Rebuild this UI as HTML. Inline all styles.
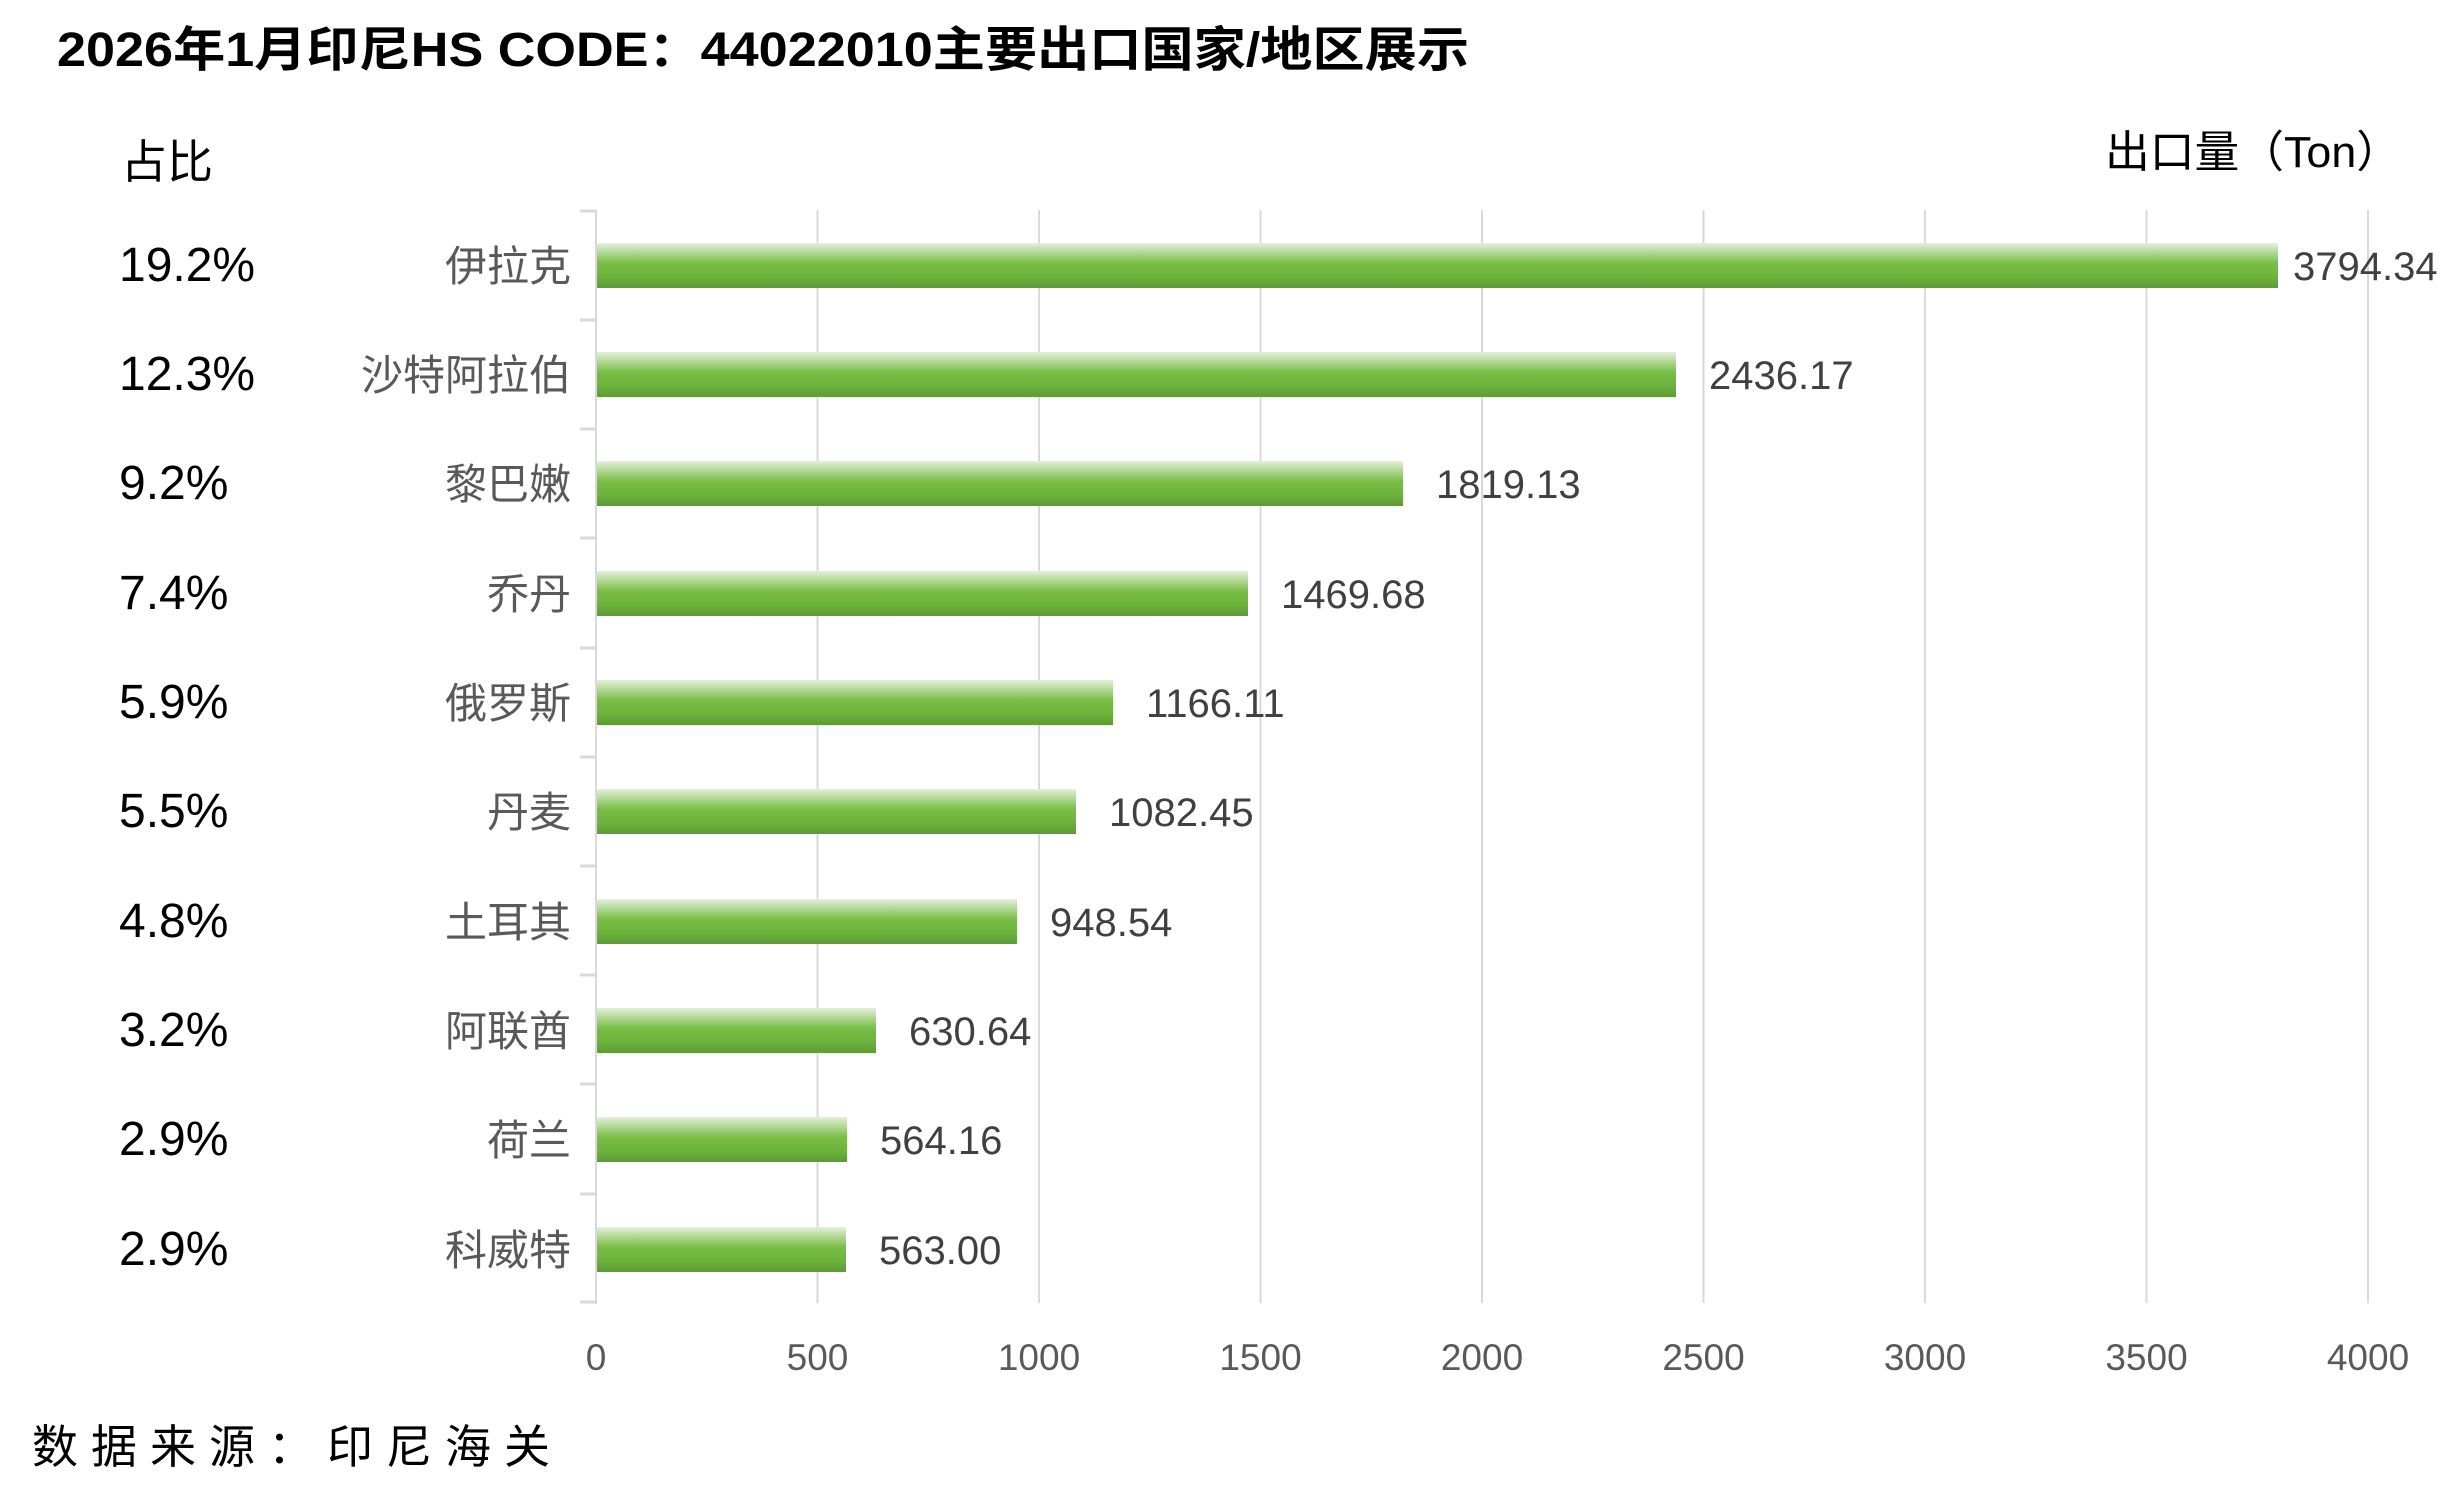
<!DOCTYPE html>
<html><head><meta charset="utf-8"><style>
html,body{margin:0;padding:0;background:#fff;}
svg{display:block;}
text{font-family:"Liberation Sans","Noto Sans CJK SC",sans-serif;}
</style></head><body>
<svg width="2463" height="1495" viewBox="0 0 2463 1495" xmlns="http://www.w3.org/2000/svg">
<defs>
<linearGradient id="g" x1="0" y1="0" x2="0" y2="1">
<stop offset="0" stop-color="#e3f0da"/>
<stop offset="0.45" stop-color="#79bd45"/>
<stop offset="0.75" stop-color="#6cb33c"/>
<stop offset="1" stop-color="#5c9c33"/>
</linearGradient>
</defs>
<text x="57" y="66" font-size="48" font-weight="bold" fill="#000" textLength="1412" lengthAdjust="spacingAndGlyphs">2026年1月印尼HS CODE：44022010主要出口国家/地区展示</text>
<text x="121" y="178" font-size="46" fill="#000">占比</text>
<text x="2105" y="167" font-size="44" fill="#000" textLength="296" lengthAdjust="spacingAndGlyphs">出口量（Ton）</text>
<g stroke="#d9d9d9" stroke-width="2">
<line x1="1039" y1="210" x2="1039" y2="1303"/>
<line x1="1482" y1="210" x2="1482" y2="1303"/>
<line x1="1925" y1="210" x2="1925" y2="1303"/>
<line x1="2368" y1="210" x2="2368" y2="1303"/>
<line x1="817.5" y1="210" x2="817.5" y2="1303"/>
<line x1="1260.5" y1="210" x2="1260.5" y2="1303"/>
<line x1="1703.5" y1="210" x2="1703.5" y2="1303"/>
<line x1="2146.5" y1="210" x2="2146.5" y2="1303"/>
<line x1="596" y1="210" x2="596" y2="1304"/>
</g>
<g stroke="#d9d9d9" stroke-width="3">
<line x1="580" y1="211" x2="596" y2="211"/><line x1="580" y1="320" x2="596" y2="320"/><line x1="580" y1="429" x2="596" y2="429"/><line x1="580" y1="538" x2="596" y2="538"/><line x1="580" y1="648" x2="596" y2="648"/><line x1="580" y1="757" x2="596" y2="757"/><line x1="580" y1="866" x2="596" y2="866"/><line x1="580" y1="975" x2="596" y2="975"/><line x1="580" y1="1084" x2="596" y2="1084"/><line x1="580" y1="1194" x2="596" y2="1194"/><line x1="580" y1="1302" x2="596" y2="1302"/>
</g>
<g fill="url(#g)">
<rect x="597" y="243" width="1681" height="45"/>
<rect x="597" y="352" width="1079" height="45"/>
<rect x="597" y="461" width="806" height="45"/>
<rect x="597" y="571" width="651" height="45"/>
<rect x="597" y="680" width="516" height="45"/>
<rect x="597" y="789" width="479" height="45"/>
<rect x="597" y="899" width="420" height="45"/>
<rect x="597" y="1008" width="279" height="45"/>
<rect x="597" y="1117" width="250" height="45"/>
<rect x="597" y="1227" width="249" height="45"/>
</g>
<g font-size="48" fill="#000">
<text x="119" y="281">19.2%</text>
<text x="119" y="390">12.3%</text>
<text x="119" y="499">9.2%</text>
<text x="119" y="609">7.4%</text>
<text x="119" y="718">5.9%</text>
<text x="119" y="827">5.5%</text>
<text x="119" y="937">4.8%</text>
<text x="119" y="1046">3.2%</text>
<text x="119" y="1155">2.9%</text>
<text x="119" y="1265">2.9%</text>
</g>
<g font-size="42" fill="#595959" text-anchor="end">
<text x="571" y="281">伊拉克</text>
<text x="571" y="390">沙特阿拉伯</text>
<text x="571" y="499">黎巴嫩</text>
<text x="571" y="609">乔丹</text>
<text x="571" y="718">俄罗斯</text>
<text x="571" y="827">丹麦</text>
<text x="571" y="937">土耳其</text>
<text x="571" y="1046">阿联酋</text>
<text x="571" y="1155">荷兰</text>
<text x="571" y="1265">科威特</text>
</g>
<g font-size="40" fill="#404040">
<text x="2293" y="280">3794.34</text>
<text x="1709" y="389">2436.17</text>
<text x="1436" y="498">1819.13</text>
<text x="1281" y="608">1469.68</text>
<text x="1146" y="717">1166.11</text>
<text x="1109" y="826">1082.45</text>
<text x="1050" y="936">948.54</text>
<text x="909" y="1045">630.64</text>
<text x="880" y="1154">564.16</text>
<text x="879" y="1264">563.00</text>
</g>
<g font-size="37" fill="#595959" text-anchor="middle">
<text x="596" y="1370">0</text>
<text x="817.5" y="1370">500</text>
<text x="1039" y="1370">1000</text>
<text x="1260.5" y="1370">1500</text>
<text x="1482" y="1370">2000</text>
<text x="1703.5" y="1370">2500</text>
<text x="1925" y="1370">3000</text>
<text x="2146.5" y="1370">3500</text>
<text x="2368" y="1370">4000</text>
</g>
<text x="32" y="1463" font-size="46" fill="#000" letter-spacing="13">数据来源：印尼海关</text>
</svg>
</body></html>
